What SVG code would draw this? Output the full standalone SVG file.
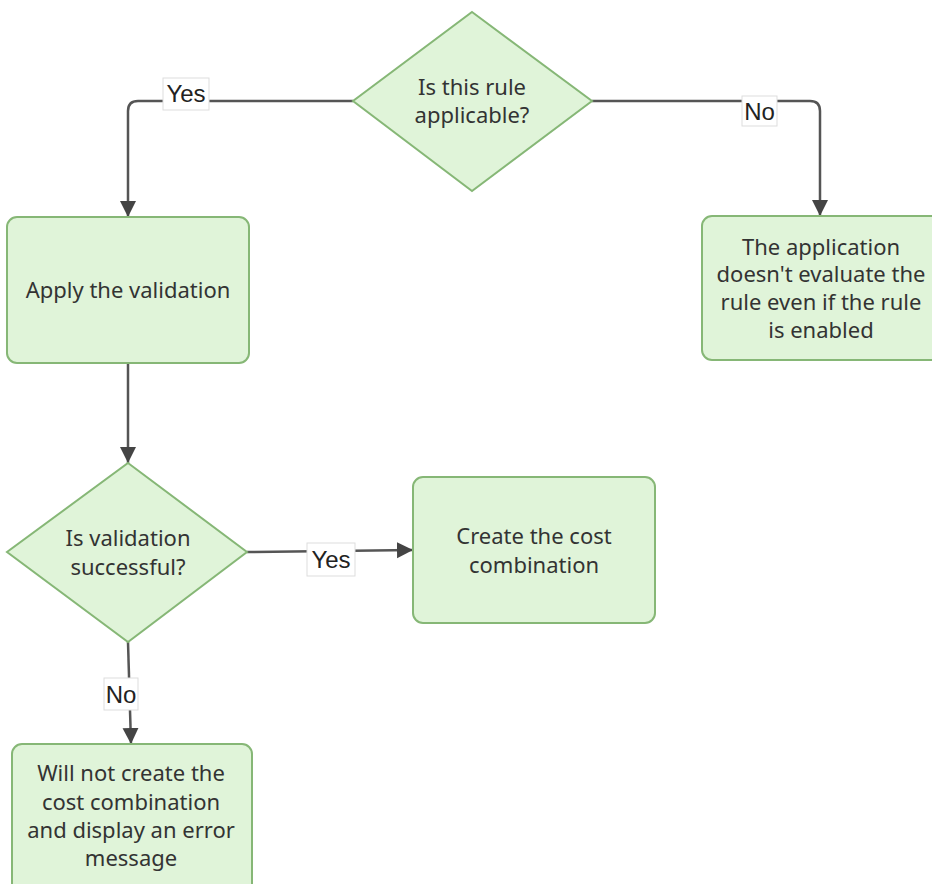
<svg xmlns="http://www.w3.org/2000/svg" width="932" height="884" viewBox="0 0 932 884">
<style>
.node{fill:#e0f4d9;stroke:#86b776;stroke-width:2}
.t{font-family:"Noto Sans",sans-serif;font-size:22px;fill:#333;text-anchor:middle}
.edge{fill:none;stroke:#555;stroke-width:2.5}
.lbox{fill:#fff;stroke:#ddd;stroke-width:1}
.lt{font-family:"Liberation Sans",Arial,sans-serif;font-size:24px;fill:#222;text-anchor:middle}
</style>
<defs>
<marker id="arr" markerUnits="userSpaceOnUse" markerWidth="16" markerHeight="20" viewBox="0 0 16 20" refX="16" refY="10" orient="auto">
<path d="M0,2 L16,10 L0,18 Z" fill="#444"/>
</marker>
</defs>
<g id="connectors">
<path class="edge" d="M353,101 L138,101 Q128,101 128,111 L128,217" marker-end="url(#arr)"/>
<path class="edge" d="M592,101 L810,101 Q820,101 820,111 L820,216" marker-end="url(#arr)"/>
<path class="edge" d="M128,363 L128,463" marker-end="url(#arr)"/>
<path class="edge" d="M247,552 L413,550" marker-end="url(#arr)"/>
<path class="edge" d="M128,642 L131,744" marker-end="url(#arr)"/>
<g id="label-yes1"><rect class="lbox" x="163" y="78" width="46" height="32"/><text class="lt" x="186" y="102">Yes</text></g>
<g id="label-no1"><rect class="lbox" x="742" y="96" width="35" height="30"/><text class="lt" x="759.5" y="120">No</text></g>
<g id="label-yes2"><rect class="lbox" x="307" y="543" width="48" height="33"/><text class="lt" x="331" y="568">Yes</text></g>
<g id="label-no2"><rect class="lbox" x="104" y="678" width="34" height="32"/><text class="lt" x="121" y="703">No</text></g>
</g>
<g id="d1">
<polygon class="node" points="472,12 592,101 472,191 353,101"/>
<text class="t" x="472" y="95">Is this rule</text>
<text class="t" x="472" y="123">applicable?</text>
</g>
<g id="apply">
<rect class="node" x="7" y="217" width="242" height="146" rx="10"/>
<text class="t" x="128" y="298">Apply the validation</text>
</g>
<g id="noeval">
<rect class="node" x="702" y="216" width="242" height="144" rx="10"/>
<text class="t" x="821" y="255">The application</text>
<text class="t" x="821" y="282">doesn't evaluate the</text>
<text class="t" x="821" y="310">rule even if the rule</text>
<text class="t" x="821" y="338">is enabled</text>
</g>
<g id="d2">
<polygon class="node" points="128,463 247,552 128,642 7,552"/>
<text class="t" x="128" y="546">Is validation</text>
<text class="t" x="128" y="575">successful?</text>
</g>
<g id="create">
<rect class="node" x="413" y="477" width="242" height="146" rx="10"/>
<text class="t" x="534" y="544">Create the cost</text>
<text class="t" x="534" y="573">combination</text>
</g>
<g id="error">
<rect class="node" x="12" y="744" width="240" height="160" rx="10"/>
<text class="t" x="131" y="781">Will not create the</text>
<text class="t" x="131" y="810">cost combination</text>
<text class="t" x="131" y="838">and display an error</text>
<text class="t" x="131" y="866">message</text>
</g>
</svg>
